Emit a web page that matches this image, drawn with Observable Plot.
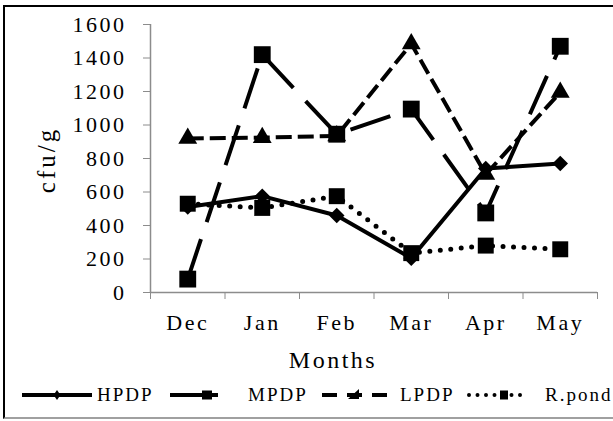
<!DOCTYPE html>
<html>
<head>
<meta charset="utf-8">
<script src="https://cdn.jsdelivr.net/npm/d3@7"></script>
<script src="https://cdn.jsdelivr.net/npm/@observablehq/plot@0.6"></script>
<style>
  html, body { margin: 0; padding: 0; background: white; overflow: hidden; }
  #wrap { position: relative; width: 613px; height: 421px; font-family: "Liberation Serif", serif; }
  #frame {
    position: absolute; left: 3px; top: 5px; width: 700px; height: 410px;
    border-left: 2px solid black; border-top: 2px solid black; border-bottom: 2px solid #a0a0a0;
    pointer-events: none;
  }
  #chart { position: absolute; left: 0; top: 0; }
  #ylabel {
    position: absolute; left: 47px; top: 160px; font-size: 25px; letter-spacing: 3px;
    line-height: 24px; white-space: nowrap; transform: translate(-50%, -50%) rotate(-90deg);
  }
  .leg { position: absolute; top: 384px; height: 22px; }
  .legtext { position: absolute; top: 384px; font-size: 19px; letter-spacing: 2px; line-height: 22px; color: black; }
</style>
</head>
<body>
<div id="wrap">
  <div id="chart"></div>
  <div id="ylabel">cfu/g</div>
  <div id="legend"></div>
  <div id="frame"></div>
</div>
<script>
const months = ["Dec", "Jan", "Feb", "Mar", "Apr", "May"];
const seriesNames = ["HPDP", "MPDP", "LPDP", "R.pond"];
const hpdp = [510, 575, 460, 205, 740, 770];
const mpdp = [80, 1420, 945, 1095, 475, 1470];
const lpdp = [920, 925, 935, 1485, 705, 1195];
const rpond = [530, 505, 575, 235, 280, 258];
const yTicks = [0, 200, 400, 600, 800, 1000, 1200, 1400, 1600];

const values = [hpdp, mpdp, lpdp, rpond];
const rows = seriesNames.flatMap((s, k) =>
    values[k].map((v, i) => ({ series: s, month: months[i], pos: i + 0.5, value: v }))
);

// line + marker look for every series
const looks = {
    "HPDP": { dash: null, symbol: "diamond2", r: 7 },
    "MPDP": { dash: "42,18", symbol: "square", r: 9.5 },
    "LPDP": { dash: "16,6", symbol: "triangle", r: 7 },
    "R.pond": { dash: "0,10.5", symbol: "square", r: 9, width: 5 },
};

const bounds = d3.range(months.length + 1);
const centers = months.map((m, i) => i + 0.5);

const chart = Plot.plot({
    width: 613,
    height: 380,
    marginLeft: 150,
    marginRight: 16,
    marginTop: 24,
    marginBottom: 88,
    style: {
        fontFamily: "Liberation Serif", letterSpacing: "2.5px",
        background: "transparent", overflow: "visible"
    },
    x: { type: "linear", domain: [0, months.length] },
    y: { domain: [0, 1600] },
    marks: [
        Plot.ruleX([0], { stroke: "#8c8c8c", strokeWidth: 1.5 }),
        Plot.ruleY([0], { stroke: "#8c8c8c", strokeWidth: 1.5 }),
        Plot.axisY({
            ticks: yTicks, tickSize: 7, tickPadding: 17, stroke: "#8c8c8c",
            fill: "black", fontSize: 22, label: null, tickFormat: (d) => String(d)
        }),
        Plot.axisX({
            ticks: bounds, tickSize: 7, stroke: "#8c8c8c", tickFormat: () => "", label: null
        }),
        Plot.axisX({
            ticks: centers, tickSize: 0, tickPadding: 22, fill: "black", fontSize: 22,
            tickFormat: (d) => months[Math.floor(d)], label: null
        }),
        ...seriesNames.flatMap((s) => {
            const look = looks[s];
            const data = rows.filter((d) => d.series === s);
            return [
                Plot.line(data, {
                    x: "pos", y: "value", stroke: "black",
                    strokeWidth: look.width || 4,
                    strokeDasharray: look.dash,
                    strokeLinecap: look.dash === "0,10.5" ? "round" : "butt",
                }),
                Plot.dot(data, {
                    x: "pos", y: "value", symbol: look.symbol, r: look.r,
                    fill: "black", stroke: "none"
                }),
            ];
        }),
        Plot.text(["Months"], {
            frameAnchor: "bottom", text: (d) => d, dx: -41, dy: 68,
            fontSize: 24, fill: "black", textAnchor: "middle", lineAnchor: "middle"
        }),
    ],
});
document.getElementById("chart").append(chart);

// legend below the chart
const legend = document.getElementById("legend");
function legendItem(left, width, text, textLeft, draw) {
    const svg = d3.create("svg")
        .attr("class", "leg")
        .attr("width", width)
        .attr("height", 22)
        .style("left", left + "px");
    draw(svg);
    legend.append(svg.node());
    const t = document.createElement("div");
    t.className = "legtext";
    t.style.left = textLeft + "px";
    t.textContent = text;
    legend.append(t);
}
const mid = 11;
legendItem(22, 70, "HPDP", 97, (svg) => {
    svg.append("line").attr("x1", 0).attr("x2", 70).attr("y1", mid).attr("y2", mid)
        .attr("stroke", "black").attr("stroke-width", 4);
    svg.append("path").attr("transform", `translate(35,${mid})`)
        .attr("d", "M0,-5L3.5,0L0,5L-3.5,0Z").attr("fill", "black");
});
legendItem(170, 48, "MPDP", 248, (svg) => {
    svg.append("line").attr("x1", 0).attr("x2", 48).attr("y1", mid).attr("y2", mid)
        .attr("stroke", "black").attr("stroke-width", 4);
    svg.append("rect").attr("x", 32).attr("y", mid - 4.5).attr("width", 10).attr("height", 9)
        .attr("fill", "black");
});
legendItem(322, 66, "LPDP", 400, (svg) => {
    svg.append("line").attr("x1", 0).attr("x2", 66).attr("y1", mid).attr("y2", mid)
        .attr("stroke", "black").attr("stroke-width", 4).attr("stroke-dasharray", "15,10");
    svg.append("path").attr("transform", `translate(32,${mid})`)
        .attr("d", "M5,-6L5,4L-6,4Z").attr("fill", "black");
});
legendItem(467, 56, "R.pond", 545, (svg) => {
    svg.append("line").attr("x1", 2).attr("x2", 56).attr("y1", mid).attr("y2", mid)
        .attr("stroke", "black").attr("stroke-width", 4).attr("stroke-linecap", "round")
        .attr("stroke-dasharray", "0,8.5");
    svg.append("rect").attr("x", 33).attr("y", mid - 4.5).attr("width", 8).attr("height", 9)
        .attr("fill", "black");
});
</script>
</body>
</html>
